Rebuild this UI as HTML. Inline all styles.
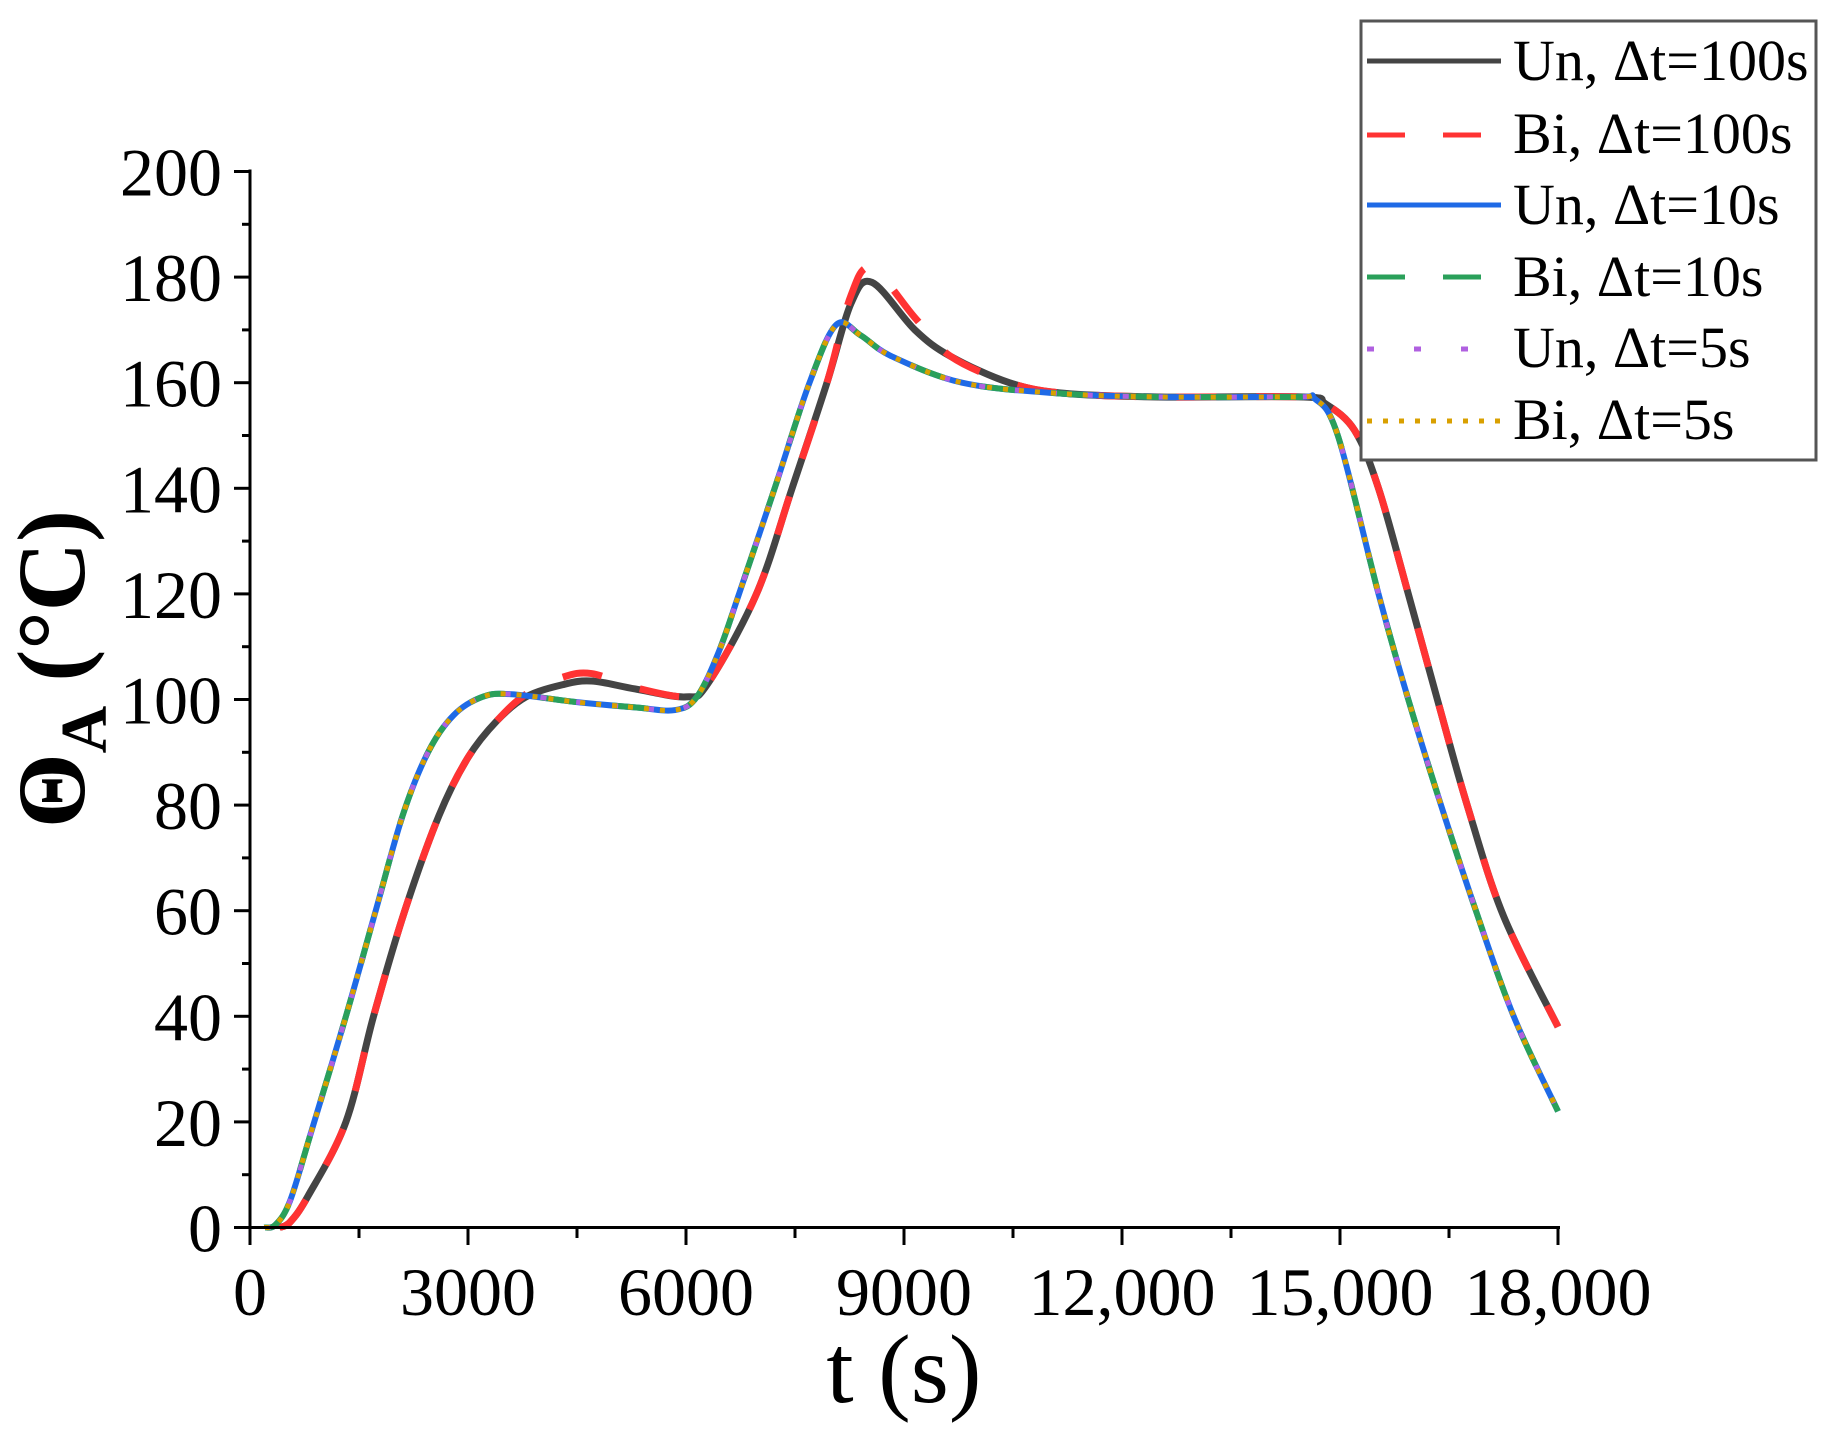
<!DOCTYPE html>
<html><head><meta charset="utf-8"><style>
html,body{margin:0;padding:0;background:#fff;}
svg{display:block;}
text{font-family:"Liberation Serif",serif;fill:#000;}
</style></head><body>
<svg id="s" width="1840" height="1432" viewBox="0 0 1840 1432" xmlns="http://www.w3.org/2000/svg">
<g id="curves" fill="none" stroke-linejoin="round"></g>
<g id="axes" stroke="#000" stroke-width="3"></g>
<g id="labels" font-size="68"></g>
<text x="904" y="1402" font-size="98" text-anchor="middle">t (s)</text>
<text transform="translate(84,669) rotate(-90)" font-size="96" font-weight="bold" text-anchor="middle">Θ<tspan font-size="66" dy="22">A</tspan><tspan dy="-22"> (°C)</tspan></text>
<rect x="1361" y="21" width="455" height="439" fill="#fff" stroke="#555" stroke-width="3"/>
<g font-size="58">
<line x1="1367" y1="61" x2="1501" y2="61" stroke="#444" stroke-width="5"/>
<text x="1513" y="80">Un, Δt=100s</text>
<line x1="1367" y1="135" x2="1501" y2="135" stroke="#f33" stroke-width="5" stroke-dasharray="38,38"/>
<text x="1513" y="153">Bi, Δt=100s</text>
<line x1="1367" y1="205" x2="1501" y2="205" stroke="#1f6ae6" stroke-width="5"/>
<text x="1513" y="224">Un, Δt=10s</text>
<line x1="1367" y1="277" x2="1501" y2="277" stroke="#2aa05a" stroke-width="5" stroke-dasharray="38,38"/>
<text x="1513" y="296">Bi, Δt=10s</text>
<line x1="1367" y1="349" x2="1501" y2="349" stroke="#b060e0" stroke-width="5" stroke-dasharray="7,40"/>
<text x="1513" y="367">Un, Δt=5s</text>
<line x1="1367" y1="421" x2="1501" y2="421" stroke="#d9a000" stroke-width="5" stroke-dasharray="5,11"/>
<text x="1513" y="439">Bi, Δt=5s</text>
</g>
</svg>
<script>
const NS="http://www.w3.org/2000/svg";
const X=t=>250+t*1308/18000, Y=v=>1227.5-v*1056/200;
function mk(tag,attrs,parent){const e=document.createElementNS(NS,tag);for(const k in attrs)e.setAttribute(k,attrs[k]);document.getElementById(parent).appendChild(e);return e;}
function path(pts){
 const p=pts.map(([t,v])=>[X(t),Y(v)]);
 let d="M"+p[0][0]+","+p[0][1];
 for(let i=0;i<p.length-1;i++){
  const p0=p[Math.max(i-1,0)],p1=p[i],p2=p[i+1],p3=p[Math.min(i+2,p.length-1)];
  const c1=[p1[0]+(p2[0]-p0[0])/6,p1[1]+(p2[1]-p0[1])/6];
  const c2=[p2[0]-(p3[0]-p1[0])/6,p2[1]-(p3[1]-p1[1])/6];
  d+=" C"+c1+" "+c2+" "+p2;
 }
 return d;
}
const fast=[[200,0],[350,0.5],[550,5],[840,18],[1320,40],[1730,60],[2100,78],[2450,90],[2800,97],[3200,100.5],[3600,101],[4500,99.5],[5300,98.5],[5850,98],[6150,100.5],[6450,109],[6730,120],[7220,140],[7700,160],[8070,171],[8400,169],[8830,165],[9800,160],[11100,158],[12500,157.3],[14400,157.3],[14650,157],[14970,150],[15530,120],[15940,100],[16390,80],[16870,60],[17390,40],[18000,22]];
const slow=[[400,0],[550,1],[800,6],[1320,20],[1700,40],[2130,60],[2600,78],[3000,89],[3400,96],[3800,100.5],[4300,102.8],[4700,103.5],[5300,102],[6000,100.5],[6300,103],[6970,120],[7460,140],[7940,160],[8270,175],[8560,179],[9150,170],[9640,165],[10450,160],[11200,158],[12500,157.3],[14500,157.3],[14800,156],[15200,151],[15530,140],[15940,120],[16340,100],[16750,80],[17250,59],[18000,38]];
const red=slow.map(([t,v])=>{let d=0; if(t>=3600&&t<=5400)d=1.5*Math.sin((t-3600)/1800*Math.PI); if(t>=8000&&t<=9600)d=3*Math.sin((t-8000)/1600*Math.PI); return [t,v+d];});
mk("path",{d:path(slow),stroke:"#444","stroke-width":7},"curves");
mk("path",{d:path(red),stroke:"#f33","stroke-width":7,"stroke-dasharray":"40,40"},"curves");
mk("path",{d:path(fast),stroke:"#1f6ae6","stroke-width":6},"curves");
mk("path",{d:path(fast),stroke:"#2aa05a","stroke-width":6,"stroke-dasharray":"36,36"},"curves");
mk("path",{d:path(fast),stroke:"#b060e0","stroke-width":5,"stroke-dasharray":"6,30"},"curves");
mk("path",{d:path(fast),stroke:"#d9a000","stroke-width":5,"stroke-dasharray":"5,11"},"curves");
mk("line",{x1:250,y1:Y(200)-2,x2:250,y2:1229},"axes");
mk("line",{x1:234,y1:1227.5,x2:1560,y2:1227.5},"axes");
for(let v=0;v<=200;v+=10){const maj=v%20==0;mk("line",{x1:250,x2:maj?234:242,y1:Y(v),y2:Y(v)},"axes");
 if(maj){const t=mk("text",{x:222,y:Y(v)+24,"text-anchor":"end"},"labels");t.textContent=v;}}
const xl=["0","3000","6000","9000","12,000","15,000","18,000"];
for(let t=0;t<=18000;t+=1500){const maj=t%3000==0;mk("line",{x1:X(t),x2:X(t),y1:1227.5,y2:maj?1245:1238},"axes");
 if(maj){const e=mk("text",{x:X(t),y:1315,"text-anchor":"middle"},"labels");e.textContent=xl[t/3000];}}
</script>
</body></html>
